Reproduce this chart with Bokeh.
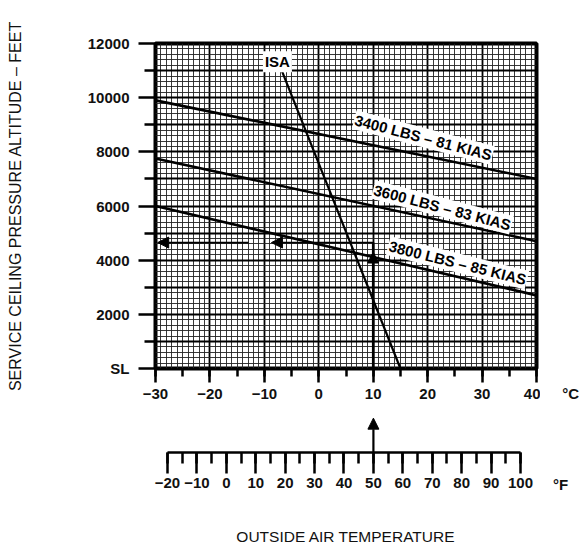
from bokeh.plotting import figure
from bokeh.models import (Range1d, LinearAxis, SingleIntervalTicker, FixedTicker,
                          Grid, Arrow, NormalHead, ColumnDataSource)
from bokeh.layouts import column, row
from bokeh.core.properties import value
from bokeh.embed import file_html
from bokeh.resources import INLINE

FONT = "Liberation Sans"

# Service ceiling (pressure altitude, ft) at the ends of the OAT scale
oat_c = [-30, 40]
ceiling_3400 = [9900, 7000]
ceiling_3600 = [7750, 4700]
ceiling_3800 = [6000, 2700]

line_labels = ["3400 LBS – 81 KIAS", "3600 LBS – 83 KIAS", "3800 LBS – 85 KIAS"]
label_oat = [19.2, 22.7, 25.5]
label_alt = [8530, 5950, 3900]
label_angle = [-0.255, -0.255, -0.245]

# Standard atmosphere temperature line
isa_alt = [0, 11000]
isa_oat = [15, -6.8]
isa_label_oat = [-7.6]
isa_label_alt = [11330]

# Worked example: 50 °F (10 °C) read across to the altitude scale
example_oat_c = 10
example_oat_f = 50
example_alt = 4650

alt_ticks = [0, 2000, 4000, 6000, 8000, 10000, 12000]
alt_minor_ticks = [1000, 3000, 5000, 7000, 9000, 11000]


def style_axis(ax):
    ax.major_tick_in = 0
    ax.minor_tick_in = 0
    ax.major_tick_line_width = 2.5
    ax.minor_tick_line_width = 2.5
    ax.major_tick_line_color = "black"
    ax.minor_tick_line_color = "black"
    ax.major_label_text_font = FONT
    ax.major_label_text_font_size = "15px"
    ax.major_label_text_font_style = "bold"
    ax.major_label_text_color = "#111111"
    ax.axis_label_text_font = FONT
    ax.axis_label_text_font_size = "16px"
    ax.axis_label_text_font_style = "normal"
    ax.axis_label_text_color = "#111111"


def unit_panel(height, border_bottom, unit, at, tick_out, standoff):
    """Narrow strip to the right of a scale whose axis carries the unit symbol."""
    u = figure(width=39, height=height,
               x_range=Range1d(0, 39), y_range=Range1d(0, 1),
               x_axis_type=None, y_axis_type=None,
               output_backend="svg", toolbar_location=None,
               min_border_left=0, min_border_right=0,
               min_border_bottom=border_bottom, outline_line_color=None)
    u.xgrid.visible = False
    u.ygrid.visible = False
    u.background_fill_color = "white"
    u.border_fill_color = "white"
    ax = LinearAxis(ticker=FixedTicker(ticks=[at]), major_label_overrides={at: unit})
    style_axis(ax)
    ax.axis_line_color = None
    ax.major_tick_line_color = None
    ax.major_tick_out = tick_out
    ax.major_label_standoff = standoff
    u.add_layout(ax, "below")
    return u


# ---------------------------------------------------------------- main chart
p = figure(width=540, height=410,
           x_range=Range1d(-30, 40), y_range=Range1d(0, 12000),
           x_axis_type=None, y_axis_type=None,
           output_backend="svg", toolbar_location=None,
           min_border_left=155, min_border_right=4,
           min_border_top=43, min_border_bottom=42)
p.outline_line_color = "black"
p.outline_line_width = 4
p.background_fill_color = "white"
p.border_fill_color = "white"

# fine chart-paper grid: 1 °C by 200 ft, heavier every 10 °C / 1000 ft
for dim, ticker in ((0, SingleIntervalTicker(interval=10, num_minor_ticks=10)),
                    (1, SingleIntervalTicker(interval=1000, num_minor_ticks=5))):
    p.add_layout(Grid(dimension=dim, ticker=ticker,
                      grid_line_color="black", grid_line_width=1.8,
                      minor_grid_line_color="#222222", minor_grid_line_width=0.9))

yaxis = LinearAxis(ticker=FixedTicker(ticks=alt_ticks, minor_ticks=alt_minor_ticks),
                   major_label_overrides={0: "SL"},
                   axis_label="SERVICE CEILING PRESSURE ALTITUDE – FEET")
xaxis = LinearAxis(ticker=SingleIntervalTicker(interval=10, num_minor_ticks=2))
for ax in (yaxis, xaxis):
    style_axis(ax)
    ax.axis_line_color = None

yaxis.major_tick_out = 17
yaxis.minor_tick_out = 11
yaxis.major_label_standoff = 9
yaxis.axis_label_standoff = 61

xaxis.major_tick_out = 14
xaxis.minor_tick_out = 8
xaxis.major_label_standoff = 6

p.add_layout(yaxis, "left")
p.add_layout(xaxis, "below")

# weight / airspeed lines
for alts in (ceiling_3400, ceiling_3600, ceiling_3800):
    p.line(oat_c, alts, line_color="black", line_width=2.6)

# ISA line
p.line(isa_oat, isa_alt, line_color="black", line_width=2.2)

# example path
p.line([example_oat_c, example_oat_c], [0, example_alt], line_color="black", line_width=2.6)
head = dict(size=11, fill_color="black", line_color="black")
p.add_layout(Arrow(end=NormalHead(**head), x_start=example_oat_c, y_start=example_alt,
                   x_end=-8.7, y_end=example_alt, line_width=1.8))
p.add_layout(Arrow(end=NormalHead(**head), x_start=-12.9, y_start=example_alt,
                   x_end=-29.6, y_end=example_alt, line_width=1.8))
p.add_layout(Arrow(end=NormalHead(**head), x_start=example_oat_c, y_start=3500,
                   x_end=example_oat_c, y_end=4300, line_width=1.8))

label_src = ColumnDataSource(dict(x=label_oat, y=label_alt, text=line_labels, angle=label_angle))
p.text("x", "y", "text", angle="angle", source=label_src,
       text_font=value(FONT), text_font_size="15px", text_font_style="bold",
       text_color="black", text_align="center", text_baseline="middle",
       background_fill_color="white", padding=1)

p.text(isa_label_oat, isa_label_alt, ["ISA"],
       text_font=value(FONT), text_font_size="15px", text_font_style="bold",
       text_color="black", text_align="center", text_baseline="middle",
       background_fill_color="white", padding=2)

# ---------------------------------------------------------- Fahrenheit scale
f = figure(width=540, height=140,
           x_range=Range1d(-24.08, 105.44), y_range=Range1d(0, 42),
           x_axis_type=None, y_axis_type=None,
           output_backend="svg", toolbar_location=None,
           min_border_left=155, min_border_right=4,
           min_border_top=0, min_border_bottom=98)
f.outline_line_color = None
f.background_fill_color = "white"
f.border_fill_color = "white"
f.xgrid.visible = False
f.ygrid.visible = False

faxis = LinearAxis(ticker=SingleIntervalTicker(interval=10, num_minor_ticks=2),
                   bounds=(-20, 100), axis_label="OUTSIDE AIR TEMPERATURE")
style_axis(faxis)
faxis.axis_line_color = "black"
faxis.axis_line_width = 2.5
faxis.major_tick_out = 21
faxis.minor_tick_out = 11
faxis.major_label_standoff = 4
faxis.axis_label_text_font_size = "15.5px"
faxis.axis_label_standoff = 37
f.add_layout(faxis, "below")

f.add_layout(Arrow(end=NormalHead(**head), x_start=example_oat_f, y_start=0,
                   x_end=example_oat_f, y_end=39, line_width=2.2))

# unit symbols to the right of each scale, level with its tick labels
unit_c = unit_panel(410, 42, "°C", 31, 14, 2)
unit_f = unit_panel(140, 98, "°F", 20, 21, 2)

layout = column(row(p, unit_c, spacing=0), row(f, unit_f, spacing=0), spacing=0)
open("out.html", "w").write(file_html(layout, INLINE))
